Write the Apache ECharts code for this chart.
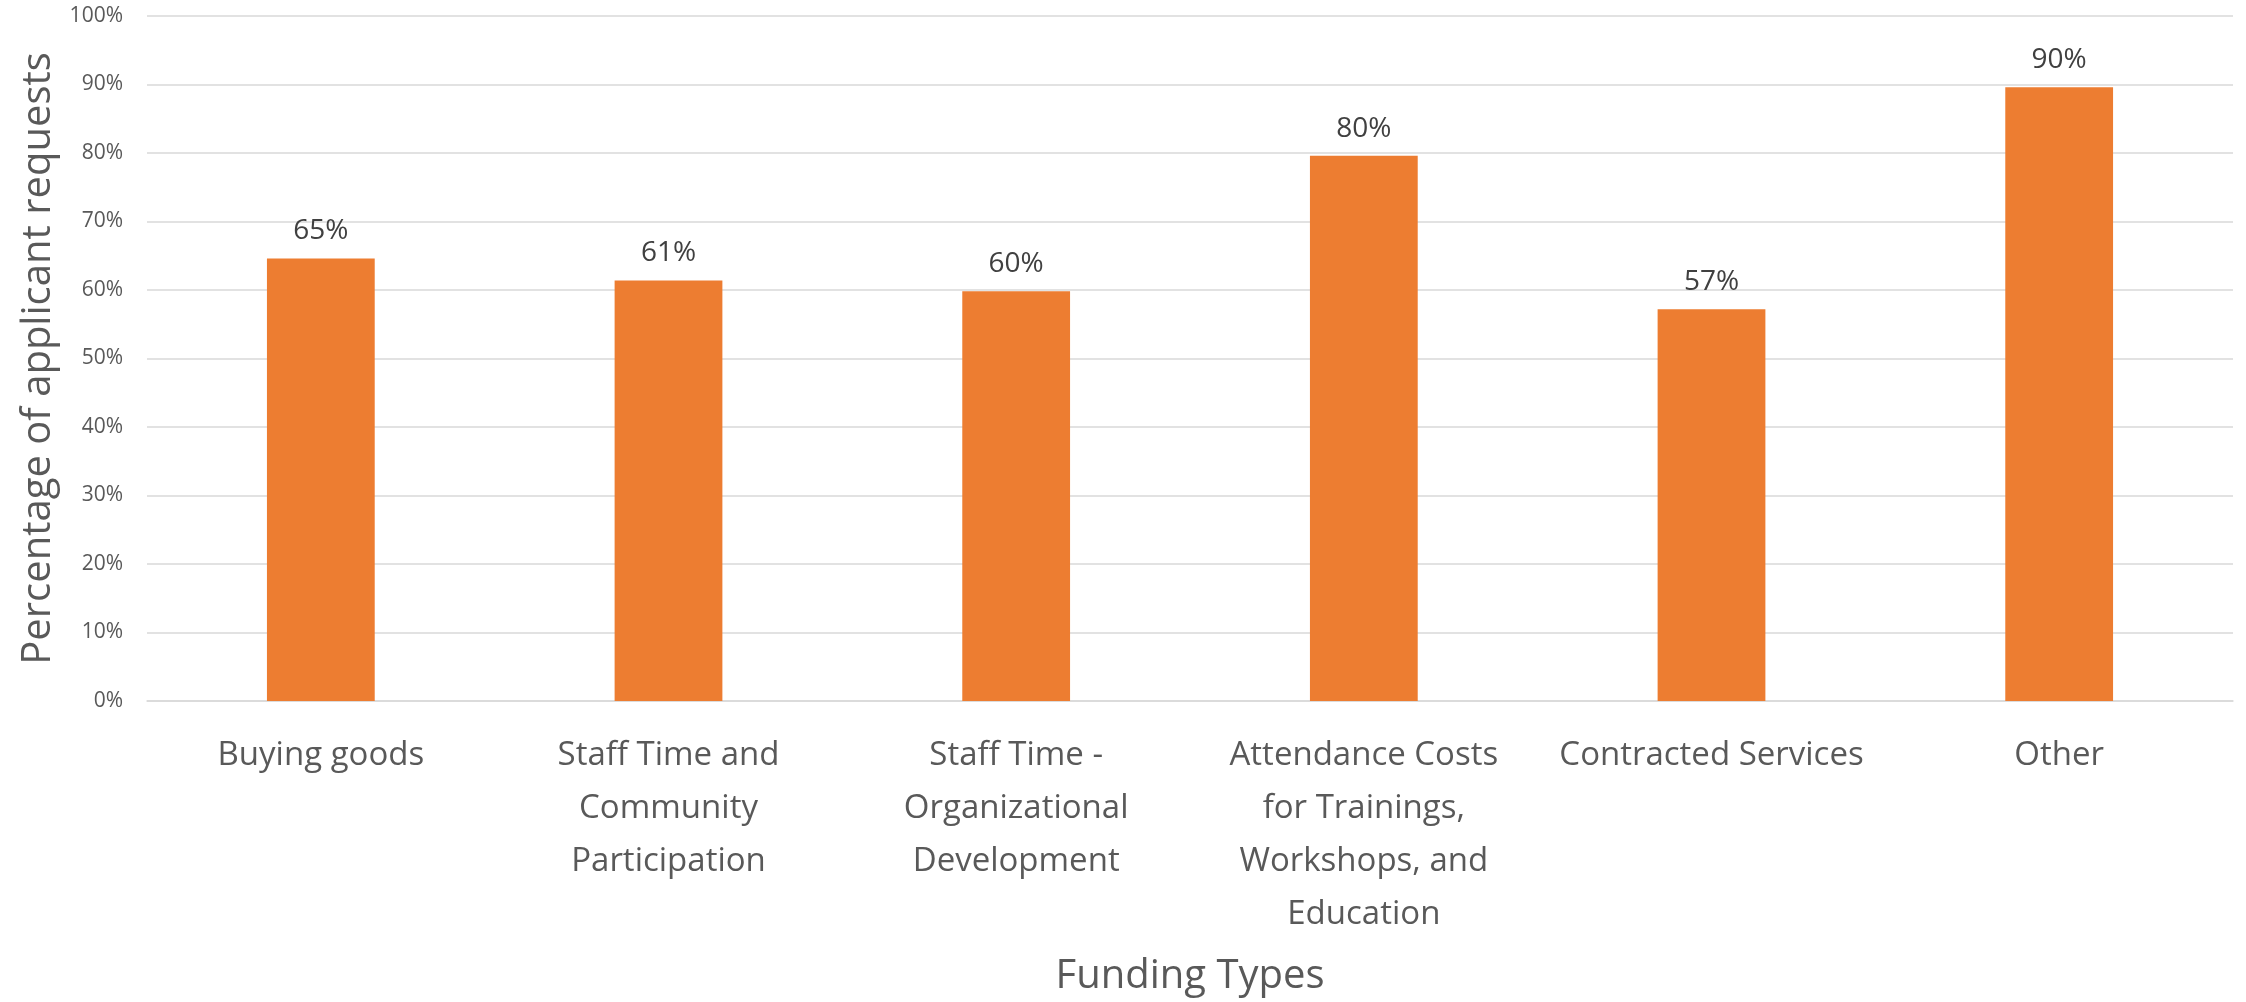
<!DOCTYPE html>
<html>
<head>
<meta charset="utf-8">
<script src="https://cdn.jsdelivr.net/npm/echarts@6/dist/echarts.min.js"></script>
<style>
  html, body { margin: 0; padding: 0; background: #fff; }
  #chart { width: 2246px; height: 1002px; }
</style>
</head>
<body>
<div id="chart"></div>
<script>
const categories = [
    'Buying goods',
    'Staff Time and\nCommunity\nParticipation',
    'Staff Time -\nOrganizational\nDevelopment',
    'Attendance Costs\nfor Trainings,\nWorkshops, and\nEducation',
    'Contracted Services',
    'Other'
];
const requestShare = [64.6, 61.4, 59.8, 79.6, 57.2, 89.6];
const yTicks = [0, 10, 20, 30, 40, 50, 60, 70, 80, 90, 100];

const fontFamily = '"Open Sans", "Noto Sans", sans-serif';
const colorBar = '#ED7D31';
const colorGrid = '#d9d9d9';
const colorText = '#595959';

const chart = echarts.init(document.getElementById('chart'));

chart.setOption({
    animation: false,
    textStyle: { fontFamily: fontFamily },
    grid: { left: 147, right: 13, top: 16, bottom: 300 },
    xAxis: {
        type: 'category',
        data: categories,
        name: 'Funding Types',
        nameLocation: 'middle',
        nameGap: 256,
        nameTextStyle: { fontSize: 40, color: colorText, fontFamily: fontFamily },
        axisLine: { lineStyle: { color: colorGrid, width: 1.5 } },
        axisTick: { show: false },
        axisLabel: {
            interval: 0,
            margin: 28,
            fontSize: 33,
            lineHeight: 53,
            color: colorText,
            align: 'center'
        }
    },
    yAxis: {
        type: 'value',
        min: yTicks[0],
        max: yTicks[yTicks.length - 1],
        interval: 10,
        name: 'Percentage of applicant requests',
        nameLocation: 'middle',
        nameGap: 78,
        nameTextStyle: { fontSize: 40, color: colorText, fontFamily: fontFamily },
        axisLine: { show: false },
        axisTick: { show: false },
        axisLabel: {
            margin: 24,
            fontSize: 21,
            color: colorText,
            formatter: function (v) { return v + '%'; }
        },
        splitLine: { lineStyle: { color: colorGrid, width: 1.5 } }
    },
    series: [
        {
            type: 'bar',
            data: requestShare,
            barWidth: '31%',
            itemStyle: { color: colorBar },
            label: {
                show: true,
                position: 'top',
                distance: 13,
                fontSize: 28,
                color: '#404040',
                formatter: function (p) { return Math.round(p.value) + '%'; }
            }
        }
    ]
});
</script>
</body>
</html>
